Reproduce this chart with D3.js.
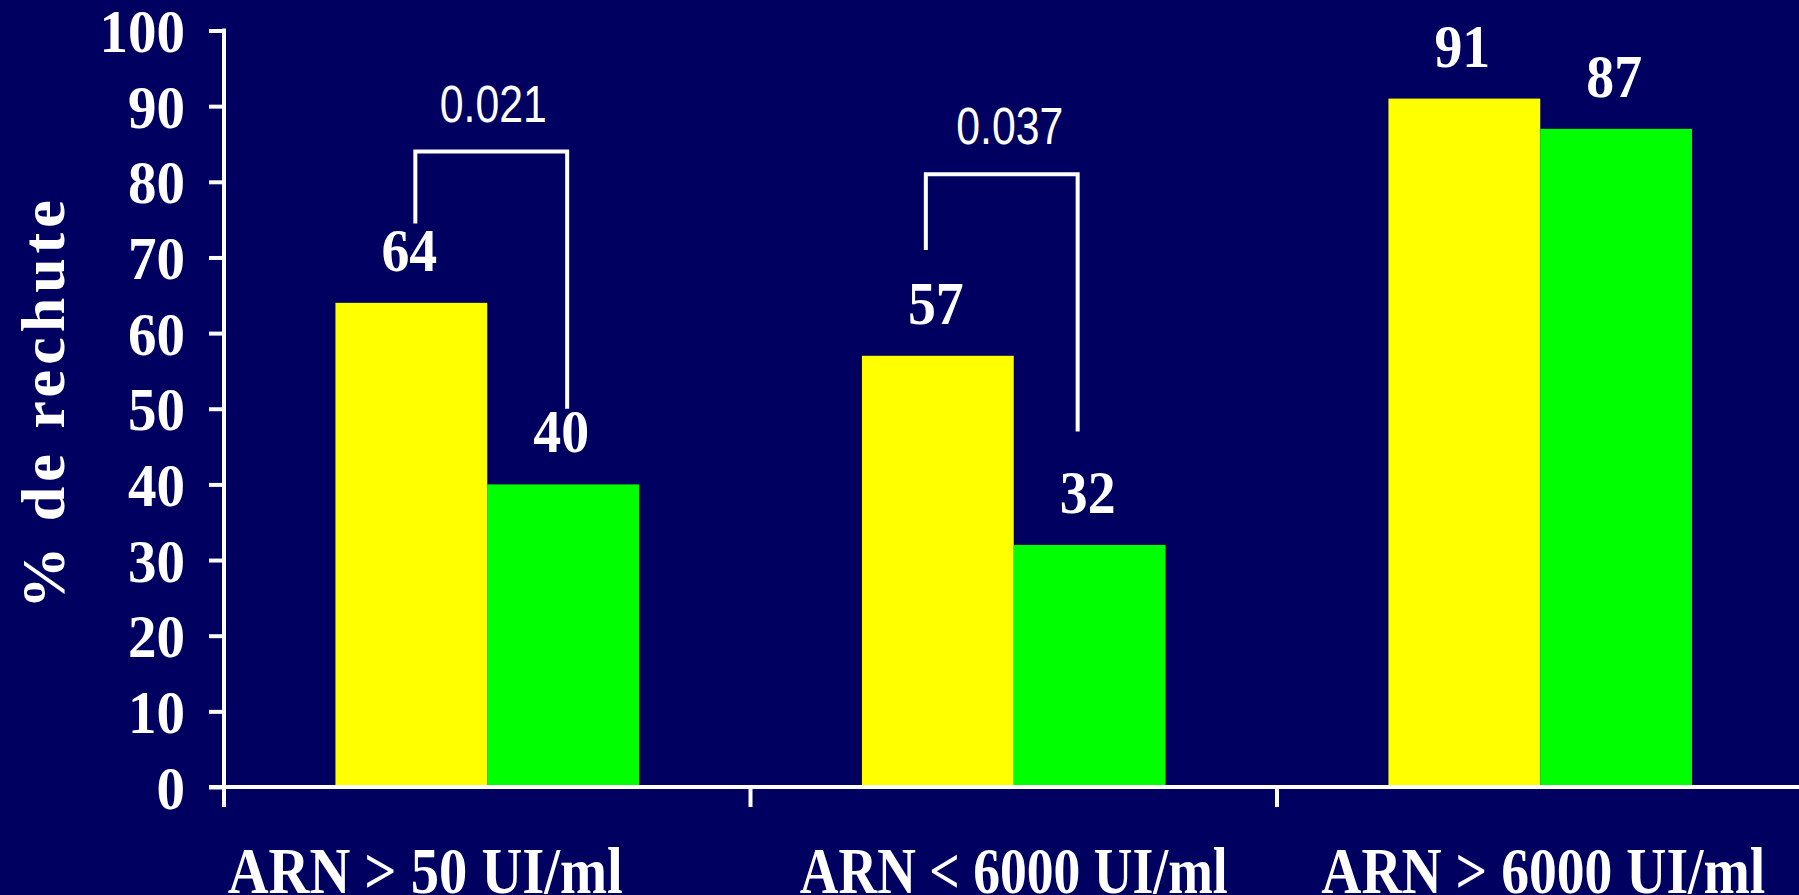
<!DOCTYPE html>
<html>
<head>
<meta charset="utf-8">
<script src="https://cdn.jsdelivr.net/npm/d3@7/dist/d3.min.js"></script>
<style>
  html, body { margin: 0; padding: 0; background: #000060; }
  svg { display: block; }
</style>
</head>
<body>
<svg id="chart" width="1799" height="895"></svg>
<script>
// Relapse rate by viral load group (two arms per group)
const categories = ["ARN > 50 UI/ml", "ARN < 6000 UI/ml", "ARN > 6000 UI/ml"];
const seriesNames = ["A", "B"];
const seriesA = [64, 57, 91];
const seriesB = [40, 32, 87];
const yTicks = [0, 10, 20, 30, 40, 50, 60, 70, 80, 90, 100];
const yTitle = "% de rechute";

// Significance brackets between the two arms
const pLabels = ["0.021", "0.037"];
const pCategory = ["ARN > 50 UI/ml", "ARN < 6000 UI/ml"];
const pTop = [84, 81];
const pLeftEnd = [74.5, 71];
const pRightEnd = [50, 47];

const W = 1799, H = 895;
const colors = { A: "#ffff00", B: "#00ff00" };
const bg = "#000060";
const serif = "'Liberation Serif', 'Times New Roman', serif";
const sans = "'Liberation Sans', Arial, sans-serif";

const svg = d3.select("#chart");
svg.append("rect").attr("width", W).attr("height", H).attr("fill", bg);

const x0 = 224, xEnd = 1803.5, y0 = 787, yTop = 30.5;

const x = d3.scaleBand().domain(categories).range([x0, xEnd]).padding(0);
const xi = d3.scaleBand().domain(seriesNames).range([0, x.bandwidth()])
  .paddingInner(0).paddingOuter(0.734);
const y = d3.scaleLinear().domain([0, 100]).range([y0, yTop]);

const rows = categories.map((c, i) => ({ cat: c, values: [
  { key: "A", v: seriesA[i] }, { key: "B", v: seriesB[i] }
]}));

// Bars
const groups = svg.append("g").selectAll("g").data(rows).join("g")
  .attr("transform", d => `translate(${x(d.cat)},0)`);
groups.selectAll("rect").data(d => d.values).join("rect")
  .attr("x", d => xi(d.key))
  .attr("y", d => y(d.v))
  .attr("width", xi.bandwidth())
  .attr("height", d => y(0) - y(d.v))
  .attr("fill", d => colors[d.key]);

// Value labels above bars
groups.selectAll("g.val").data(d => d.values).join("g")
  .attr("class", "val")
  .attr("transform", d => `translate(${xi(d.key) + xi.bandwidth() / 2 - 2},${y(d.v) - 32}) scale(0.9,1)`)
  .append("text")
  .attr("text-anchor", "middle")
  .attr("fill", "#fff")
  .style("font-family", serif)
  .style("font-weight", "bold")
  .style("font-size", "62px")
  .text(d => d.v);

// Y axis
const yAxis = d3.axisLeft(y).tickValues(yTicks).tickSize(15).tickSizeOuter(0).tickPadding(24);
const gy = svg.append("g").attr("transform", `translate(${x0},0)`).call(yAxis);
gy.select(".domain").remove();
gy.selectAll(".tick line").attr("stroke", "#fff").attr("stroke-width", 4);
gy.selectAll(".tick text")
  .attr("fill", "#fff")
  .style("font-family", serif)
  .style("font-weight", "bold")
  .style("font-size", "62px")
  .attr("dy", "0.34em")
  .attr("transform", "scale(0.92,1)")
  .attr("x", -39 / 0.92);
// axis lines
svg.append("line").attr("x1", x0).attr("x2", x0).attr("y1", y(100) - 2).attr("y2", y0 + 20)
  .attr("stroke", "#fff").attr("stroke-width", 4);
svg.append("line").attr("x1", x0 - 15).attr("x2", W).attr("y1", y0).attr("y2", y0)
  .attr("stroke", "#fff").attr("stroke-width", 4);

// X ticks at band boundaries
svg.append("g").selectAll("line").data(categories).join("line")
  .attr("x1", d => x(d)).attr("x2", d => x(d))
  .attr("y1", y0).attr("y2", y0 + 20)
  .attr("stroke", "#fff").attr("stroke-width", 4);

// X labels (condensed to fixed widths)
const labelShift = [-62, 0, 3];
const labelWidth = [395, 428, 444];
svg.append("g").selectAll("text").data(categories).join("text")
  .attr("x", (d, i) => x(d) + x.bandwidth() / 2 + labelShift[i])
  .attr("y", 893)
  .attr("text-anchor", "middle")
  .attr("textLength", (d, i) => labelWidth[i])
  .attr("lengthAdjust", "spacingAndGlyphs")
  .attr("fill", "#fff")
  .style("font-family", serif)
  .style("font-weight", "bold")
  .style("font-size", "65px")
  .text(d => d);

// Y title
svg.append("text")
  .attr("transform", "translate(64,402) rotate(-90)")
  .attr("text-anchor", "middle")
  .attr("fill", "#fff")
  .style("font-family", serif)
  .style("font-weight", "bold")
  .style("font-size", "62px")
  .style("letter-spacing", "5px")
  .text(yTitle);

// Brackets with p-values
const bracketShift = [4, -12];
const textShift = [2, 8];
pLabels.forEach((p, i) => {
  const cx = x(pCategory[i]);
  const xl = cx + xi("A") + xi.bandwidth() / 2 + bracketShift[i];
  const xr = cx + xi("B") + xi.bandwidth() / 2 + bracketShift[i];
  const yt = y(pTop[i]);
  svg.append("path")
    .attr("d", `M${xl},${y(pLeftEnd[i])}V${yt}H${xr}V${y(pRightEnd[i])}`)
    .attr("fill", "none")
    .attr("stroke", "#fff")
    .attr("stroke-width", 4);
  svg.append("g")
    .attr("transform", `translate(${(xl + xr) / 2 + textShift[i]},${yt - 30}) scale(0.84,1)`)
    .append("text")
    .attr("text-anchor", "middle")
    .attr("fill", "#fff")
    .style("font-family", sans)
    .style("font-size", "51px")
    .text(p);
});
</script>
</body>
</html>
